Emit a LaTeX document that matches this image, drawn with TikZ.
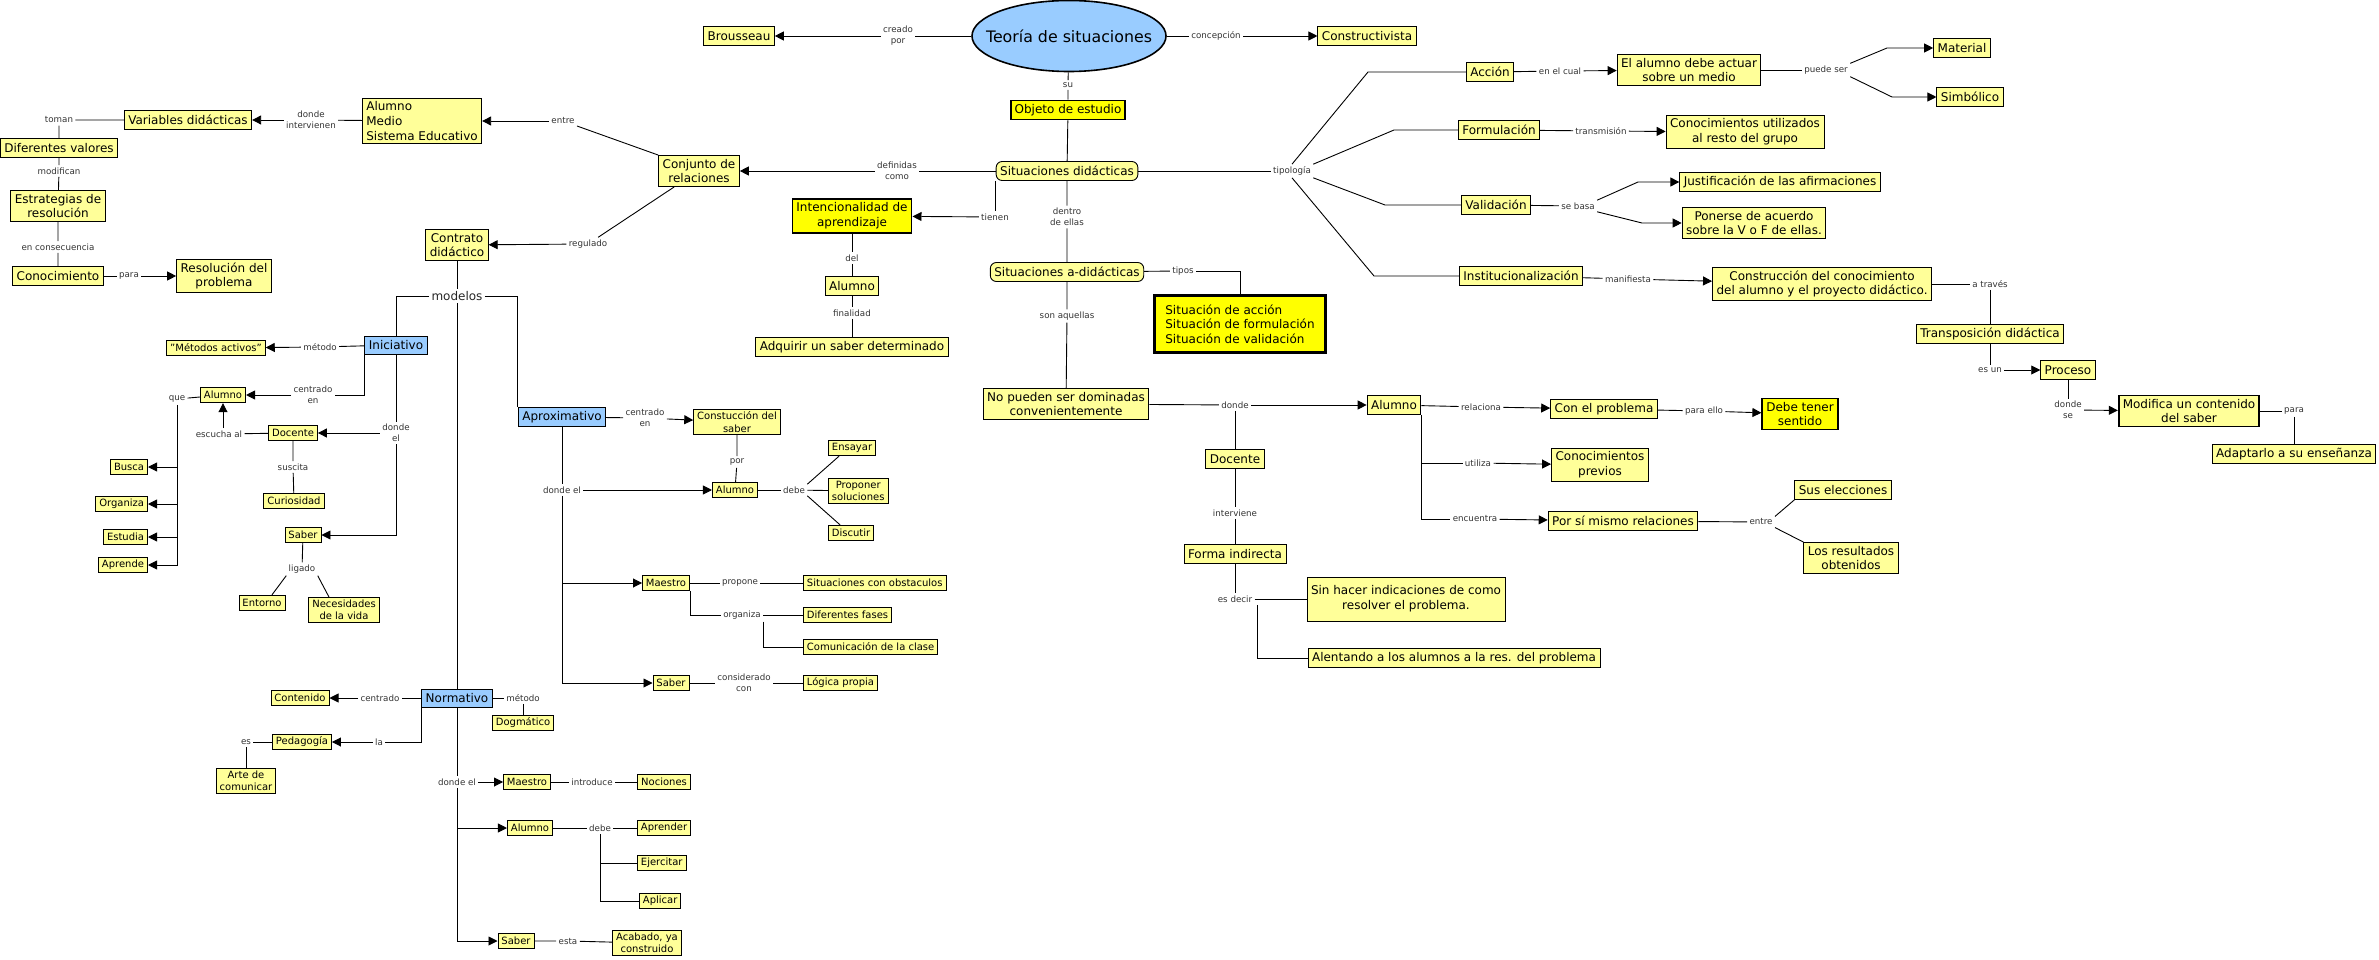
\documentclass[tikz,border=0pt]{standalone}
\usepackage{fontspec}
\setmainfont{DejaVu Sans}
\usetikzlibrary{arrows.meta,shapes.geometric}
\definecolor{cyellow}{HTML}{FFFF99}
\definecolor{byellow}{HTML}{FFFF00}
\definecolor{cblue}{HTML}{99CCFF}
\begin{document}
\begin{tikzpicture}[x=1pt,y=-1pt,line width=0.9pt,
  cbox/.style={draw,fill=cyellow,align=center,inner xsep=4pt,inner ysep=3.5pt,minimum height=19pt,font=\fontsize{12}{14.7}\selectfont},
  sbox/.style={cbox,inner xsep=3.5pt,inner ysep=2.5pt,minimum height=15.5pt,font=\fontsize{10}{12.2}\selectfont},
  rbox/.style={cbox,rounded corners=6pt},
  kbox/.style={cbox,fill=byellow,line width=1.8pt},
  mbox/.style={cbox,fill=cblue,minimum height=18pt},
  lnk/.style={inner sep=2pt,align=center,text=black!80,font=\fontsize{8.7}{11}\selectfont},
  arr/.style={-{Triangle[length=9pt,width=9pt]}}]
  \useasboundingbox (0,0) rectangle (2379,960);

  % centre
  \node[ellipse,draw,fill=cblue,line width=1.6pt,minimum width=194pt,minimum height=71pt,inner sep=0pt] (teoria) at (1069,36) {};
  \node[font=\fontsize{15.8}{18}\selectfont] (teoriatxt) at (teoria) {Teoría de situaciones};
  \node[cbox] (brousseau) at (739,36) {Brousseau};
  \node[lnk] (lcreado) at (898,36) {creado\\por};
  \node[lnk] (lconcep) at (1216,36) {concepción};
  \node[cbox] (construct) at (1367,36) {Constructivista};
  \node[lnk] (lsu) at (1068,85) {su};
  \node[kbox] (objeto) at (1068,110) {Objeto de estudio};
  \node[rbox] (sitdid) at (1067,171) {Situaciones didácticas};
  \node[lnk] (ldefin) at (897,171) {definidas\\como};
  \node[cbox] (conjunto) at (699,171) {Conjunto de\\relaciones};
  \node[lnk] (ltienen) at (995,217) {tienen};
  \node[kbox] (intenc) at (852,216) {Intencionalidad de\\aprendizaje};
  \node[lnk] (ldel) at (852,258) {del};
  \node[cbox] (alumnoi) at (852,286) {Alumno};
  \node[lnk] (lfinal) at (852,313) {finalidad};
  \node[cbox] (adquirir) at (852,347) {Adquirir un saber determinado};
  \node[lnk] (ldentro) at (1067,217) {dentro\\de ellas};
  \node[rbox] (sitadid) at (1067,272) {Situaciones a-didácticas};
  \node[lnk] (ltipos) at (1183,271) {tipos};
  \node[kbox,fill=byellow,line width=3pt,align=left,inner xsep=11pt,inner ysep=9pt] (sitbox) at (1240,324) {Situación de acción\\Situación de formulación\\Situación de validación};
  \node[lnk] (laquellas) at (1067,316) {son aquellas};
  \node[cbox] (nopueden) at (1066,404) {No pueden ser dominadas\\convenientemente};

  % upper left
  \node[lnk] (lentre) at (563,121) {entre};
  \node[cbox,align=left] (ams) at (422,121) {Alumno\\Medio\\Sistema Educativo};
  \node[lnk] (ldinterv) at (311,120) {donde\\intervienen};
  \node[cbox] (variables) at (188,120) {Variables didácticas};
  \node[lnk] (ltoman) at (59,120) {toman};
  \node[cbox] (difval) at (59,148) {Diferentes valores};
  \node[lnk] (lmodif) at (59,171) {modifican};
  \node[cbox] (estrat) at (58,206) {Estrategias de\\resolución};
  \node[lnk] (lencons) at (58,247) {en consecuencia};
  \node[cbox] (conoc) at (58,276) {Conocimiento};
  \node[lnk] (lpara) at (129,276) {para};
  \node[cbox] (resol) at (224,276) {Resolución del\\problema};
  \node[lnk] (lregul) at (588,244) {regulado};
  \node[cbox] (contrato) at (457,245) {Contrato\\didáctico};
  \node[lnk,text=black!85,font=\fontsize{12}{14}\selectfont] (lmodelos) at (457,296) {modelos};

  % iniciativo
  \node[mbox] (iniciativo) at (396,345) {Iniciativo};
  \node[lnk] (lmetodo1) at (320,347) {método};
  \node[sbox] (metact) at (216,348) {"Métodos activos"};
  \node[lnk] (lcentr1) at (313,395) {centrado\\en};
  \node[sbox] (alumnoi1) at (223,395) {Alumno};
  \node[lnk] (lque) at (177,399) {que};
  \node[sbox,anchor=east] (busca) at (148,467) {Busca};
  \node[sbox,anchor=east] (organiza) at (148,504) {Organiza};
  \node[sbox,anchor=east] (estudia) at (148,537) {Estudia};
  \node[sbox,anchor=east] (aprende) at (148,565) {Aprende};
  \node[lnk] (ldonde2) at (396,433) {donde\\el};
  \node[sbox] (docentei) at (293,433) {Docente};
  \node[lnk] (lescucha) at (219,434) {escucha al};
  \node[lnk] (lsuscita) at (293,467) {suscita};
  \node[sbox] (curios) at (294,501) {Curiosidad};
  \node[sbox] (saberi) at (303,535) {Saber};
  \node[lnk] (lligado) at (302,569) {ligado};
  \node[sbox] (entorno) at (262,603) {Entorno};
  \node[sbox] (necesid) at (344,610) {Necesidades\\de la vida};

  % aproximativo
  \node[mbox] (aprox) at (562,417) {Aproximativo};
  \node[lnk] (lcentr2) at (645,418) {centrado\\en};
  \node[sbox] (constuc) at (737,422) {Constucción del\\saber};
  \node[lnk] (lpor) at (737,462) {por};
  \node[sbox] (alumnoa) at (735,490) {Alumno};
  \node[lnk] (ldonde3) at (562,490) {donde el};
  \node[lnk] (ldebe1) at (794,490) {debe};
  \node[sbox,anchor=west] (ensayar) at (828,448) {Ensayar};
  \node[sbox,anchor=west] (proponer) at (828,491) {Proponer\\soluciones};
  \node[sbox,anchor=west] (discutir) at (828,533) {Discutir};
  \node[sbox] (maestroa) at (666,583) {Maestro};
  \node[lnk] (lpropone) at (740,583) {propone};
  \node[sbox,anchor=west] (sitobst) at (803,583) {Situaciones con obstaculos};
  \node[lnk] (lorganiza) at (742,615) {organiza};
  \node[sbox,anchor=west] (difases) at (803,615) {Diferentes fases};
  \node[sbox,anchor=west] (comunic) at (803,647) {Comunicación de la clase};
  \node[sbox] (sabera) at (671,683) {Saber};
  \node[lnk] (lconsid) at (744,683) {considerado\\con};
  \node[sbox,anchor=west] (logica) at (803,683) {Lógica propia};

  % normativo
  \node[mbox] (normativo) at (457,698) {Normativo};
  \node[lnk] (lcentr3) at (380,698) {centrado};
  \node[sbox] (contenido) at (300,698) {Contenido};
  \node[lnk] (lmetodo2) at (523,698) {método};
  \node[sbox] (dogmat) at (523,723) {Dogmático};
  \node[lnk] (lla) at (379,742) {la};
  \node[sbox] (pedagog) at (302,742) {Pedagogía};
  \node[lnk] (les) at (246,742) {es};
  \node[sbox] (arte) at (246,781) {Arte de\\comunicar};
  \node[lnk] (ldonde4) at (457,782) {donde el};
  \node[sbox] (maestron) at (527,782) {Maestro};
  \node[lnk] (lintrod) at (592,782) {introduce};
  \node[sbox] (nociones) at (664,782) {Nociones};
  \node[sbox] (alumnon) at (530,828) {Alumno};
  \node[lnk] (ldebe2) at (600,828) {debe};
  \node[sbox,anchor=west] (aprender) at (637,828) {Aprender};
  \node[sbox,anchor=west] (ejercitar) at (637,863) {Ejercitar};
  \node[sbox,anchor=west] (aplicar) at (639,901) {Aplicar};
  \node[sbox] (sabern) at (516,941) {Saber};
  \node[lnk] (lesta) at (568,941) {esta};
  \node[sbox] (acabado) at (647,943) {Acabado, ya\\construido};

  % a-didacticas, right of centre
  \node[lnk] (ldonde5) at (1235,405) {donde};
  \node[cbox] (alumno5) at (1394,405) {Alumno};
  \node[lnk] (lrelac) at (1481,407) {relaciona};
  \node[cbox] (conprob) at (1604,409) {Con el problema};
  \node[lnk] (lparaello) at (1704,411) {para ello};
  \node[kbox] (debe) at (1800,414) {Debe tener\\sentido};
  \node[lnk] (lutiliza) at (1478,463) {utiliza};
  \node[cbox] (conprev) at (1600,465) {Conocimientos\\previos};
  \node[lnk] (lencuen) at (1475,519) {encuentra};
  \node[cbox] (porsi) at (1623,521) {Por sí mismo relaciones};
  \node[lnk] (lentre2) at (1761,522) {entre};
  \node[cbox] (suselec) at (1843,490) {Sus elecciones};
  \node[cbox] (result) at (1851,558) {Los resultados\\obtenidos};
  \node[cbox] (docente2) at (1235,459) {Docente};
  \node[lnk] (linterv) at (1235,513) {interviene};
  \node[cbox] (forma) at (1235,554) {Forma indirecta};
  \node[lnk] (lesdecir) at (1235,599) {es decir};
  \node[cbox,minimum height=44pt] (sinhacer) at (1406,599) {Sin hacer indicaciones de como\\resolver el problema.};
  \node[cbox] (alentando) at (1454,658) {Alentando a los alumnos a la res. del problema};

  % tipologia
  \node[lnk] (ltipol) at (1292,171) {tipología};
  \node[cbox] (accion) at (1490,72) {Acción};
  \node[lnk] (lcual) at (1560,71) {en el cual};
  \node[cbox] (elalumno) at (1689,70) {El alumno debe actuar\\sobre un medio};
  \node[lnk] (lpuede) at (1826,70) {puede ser};
  \node[cbox] (material) at (1962,48) {Material};
  \node[cbox] (simbolico) at (1970,97) {Simbólico};
  \node[cbox] (formul) at (1499,130) {Formulación};
  \node[lnk] (ltransm) at (1601,131) {transmisión};
  \node[cbox] (conutil) at (1745,132) {Conocimientos utilizados\\al resto del grupo};
  \node[cbox] (valid) at (1496,205) {Validación};
  \node[lnk] (lsebasa) at (1578,206) {se basa};
  \node[cbox] (justif) at (1780,182) {Justificación de las afirmaciones};
  \node[cbox] (ponerse) at (1754,223) {Ponerse de acuerdo\\sobre la V o F de ellas.};
  \node[cbox] (instit) at (1521,276) {Institucionalización};
  \node[lnk] (lmanif) at (1628,279) {manifiesta};
  \node[cbox] (construc) at (1822,284) {Construcción del conocimiento\\del alumno y el proyecto didáctico.};
  \node[lnk] (latraves) at (1990,284) {a través};
  \node[cbox] (transpos) at (1990,334) {Transposición didáctica};
  \node[lnk] (lesun) at (1990,370) {es un};
  \node[cbox] (proceso) at (2068,370) {Proceso};
  \node[lnk] (ldondese) at (2068,410) {donde\\se};
  \node[cbox,line width=1.8pt] (modifica) at (2189,411) {Modifica un contenido\\del saber};
  \node[lnk] (lpara2) at (2294,411) {para};
  \node[cbox] (adaptarlo) at (2294,454) {Adaptarlo a su enseñanza};

  \draw (teoria) -- (lcreado);
  \draw[arr] (lcreado) -- (brousseau);
  \draw (teoria) -- (lconcep);
  \draw[arr] (lconcep) -- (construct);
  \draw (teoria) -- (lsu) -- (objeto) -- (sitdid);
  \draw (sitdid) -- (ldefin);
  \draw[arr] (ldefin) -- (conjunto);
  \draw (conjunto.north west) -- (lentre);
  \draw[arr] (lentre) -- (ams);
  \draw (ams) -- (ldinterv);
  \draw[arr] (ldinterv) -- (variables);
  \draw (variables) -- (ltoman) -- (difval) -- (lmodif) -- (estrat) -- (lencons) -- (conoc);
  \draw (conoc) -- (lpara);
  \draw[arr] (lpara) -- (resol);
  \draw ([xshift=16pt]conjunto.south west) -- (lregul);
  \draw[arr] (lregul) -- (contrato);
  \draw (contrato) -- (lmodelos);
  \draw (lmodelos) -| (iniciativo);
  \draw (lmodelos) -| (aprox.north west);
  \draw (lmodelos) -- (normativo);

  \draw (ltienen |- sitdid.south) -- (ltienen);
  \draw[arr] (ltienen) -- (intenc);
  \draw (intenc) -- (ldel) -- (alumnoi) -- (lfinal) -- (adquirir);
  \draw (sitdid) -- (ldentro) -- (sitadid) -- (laquellas) -- (nopueden);
  \draw (sitadid) -- (ltipos);
  \draw (ltipos) -| (sitbox);
  \draw (nopueden) -- (ldonde5);
  \draw[arr] (ldonde5) -- (alumno5);
  \draw (ldonde5) -- (docente2) -- (linterv) -- (forma) -- (lesdecir) -- (sinhacer);
  \draw ([xshift=3pt]lesdecir.south east) |- (alentando);
  \draw (alumno5) -- (lrelac);
  \draw[arr] (lrelac) -- (conprob);
  \draw (conprob) -- (lparaello);
  \draw[arr] (lparaello) -- (debe);
  \draw (alumno5.south east) |- (lencuen);
  \draw (alumno5.south east |- lutiliza) -- (lutiliza);
  \draw[arr] (lutiliza) -- (conprev);
  \draw[arr] (lencuen) -- (porsi);
  \draw (porsi) -- (lentre2);
  \draw (lentre2.north east) -- (suselec.south west);
  \draw (lentre2.south east) -- (result.north west);

  \draw (sitdid) -- (ltipol);
  \draw (ltipol.north) -- (1368,72) -- (accion);
  \draw (ltipol.north east) -- (1394,130) -- (formul);
  \draw (ltipol.south east) -- (1385,205) -- (valid);
  \draw (ltipol.south) -- (1374,276) -- (instit);
  \draw (accion) -- (lcual);
  \draw[arr] (lcual) -- (elalumno);
  \draw (elalumno) -- (lpuede);
  \draw[arr] (lpuede.north east) -- (1887,48) -- (material);
  \draw[arr] (lpuede.south east) -- (1892,97) -- (simbolico);
  \draw (formul) -- (ltransm);
  \draw[arr] (ltransm) -- (conutil);
  \draw (valid) -- (lsebasa);
  \draw[arr] (lsebasa.north east) -- (1638,182) -- (justif);
  \draw[arr] (lsebasa.south east) -- (1642,223) -- (ponerse);
  \draw (instit) -- (lmanif);
  \draw[arr] (lmanif) -- (construc);
  \draw (construc) -- (latraves) -- (transpos) -- (lesun);
  \draw[arr] (lesun) -- (proceso);
  \draw (proceso) -- (ldondese);
  \draw[arr] (ldondese) -- (modifica);
  \draw (modifica) -- (lpara2) -- (adaptarlo);

  \draw (iniciativo) -- (lmetodo1);
  \draw[arr] (lmetodo1) -- (metact);
  \draw (iniciativo.south west) |- (lcentr1);
  \draw[arr] (lcentr1) -- (alumnoi1);
  \draw (alumnoi1) -- (lque);
  \draw[arr] (lque) |- (aprende);
  \foreach \n in {busca,organiza,estudia}
    \draw[arr] (lque.south |- \n) -- (\n);
  \draw (iniciativo) -- (ldonde2);
  \draw[arr] (ldonde2) -- (docentei);
  \draw[arr] (ldonde2) |- (saberi);
  \draw (docentei) -- (lescucha);
  \draw[arr] (lescucha.north -| alumnoi1) -- (alumnoi1);
  \draw (docentei) -- (lsuscita) -- (curios);
  \draw (saberi) -- (lligado);
  \draw (lligado.south west) -- ([xshift=10pt]entorno.north);
  \draw (lligado.south east) -- ([xshift=-15pt]necesid.north);

  \draw (aprox) -- (lcentr2);
  \draw[arr] (lcentr2) -- (constuc);
  \draw (constuc) -- (lpor) -- (alumnoa);
  \draw (aprox) -- (ldonde3);
  \draw[arr] (ldonde3) -- (alumnoa);
  \draw[arr] (ldonde3) |- (sabera);
  \draw[arr] (ldonde3.south |- maestroa) -- (maestroa);
  \draw (alumnoa) -- (ldebe1);
  \draw (ldebe1.north east) -- ([xshift=11pt]ensayar.south west);
  \draw (ldebe1) -- (proponer);
  \draw (ldebe1.south east) -- ([xshift=12pt]discutir.north west);
  \draw (maestroa) -- (lpropone) -- (sitobst);
  \draw (maestroa.south east) |- (lorganiza);
  \draw (lorganiza) -- (difases);
  \draw (lorganiza.south east) |- (comunic);
  \draw (sabera) -- (lconsid) -- (logica);

  \draw (normativo) -- (lcentr3);
  \draw[arr] (lcentr3) -- (contenido);
  \draw (normativo) -- (lmetodo2) -- (dogmat);
  \draw (normativo.south west) |- (lla);
  \draw[arr] (lla) -- (pedagog);
  \draw (pedagog) -- (les) -- (arte);
  \draw (normativo) -- (ldonde4);
  \draw[arr] (ldonde4) -- (maestron);
  \draw (maestron) -- (lintrod) -- (nociones);
  \draw[arr] (ldonde4) |- (sabern);
  \draw[arr] (ldonde4.south |- alumnon) -- (alumnon);
  \draw (alumnon) -- (ldebe2) -- (aprender);
  \draw (ldebe2) |- (aplicar);
  \draw (ldebe2.south |- ejercitar) -- (ejercitar);
  \draw (sabern) -- (lesta) -- (acabado);
\end{tikzpicture}
\end{document}
